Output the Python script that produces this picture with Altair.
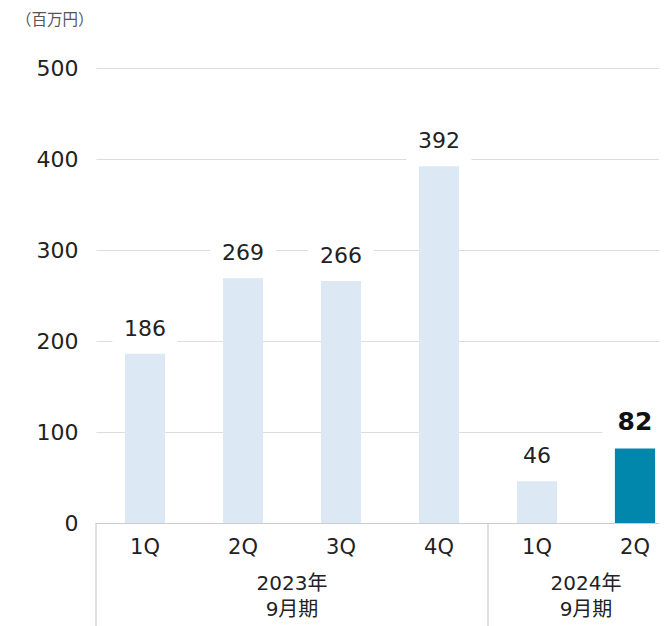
import altair as alt
import pandas as pd

years = ["2023", "2023", "2023", "2023", "2024", "2024"]
quarters = ["1Q", "2Q", "3Q", "4Q", "1Q", "2Q"]
values = [186, 269, 266, 392, 46, 82]
highlight = [False, False, False, False, False, True]
group_labels = {"2023": "2023年\n9月期", "2024": "2024年\n9月期"}
unit_label = "（百万円）"

FONT = "DejaVu Sans, Noto Sans CJK JP"
CJK = "Noto Sans CJK JP"
LIGHT = "#dce8f4"
TEAL = "#0087ab"

df = pd.DataFrame({"year": years, "q": quarters, "value": values, "hl": highlight})
df["key"] = df["year"] + "|" + df["q"]
order = list(df["key"])

g = df.groupby("year", sort=False).size().reset_index(name="n")
g["start"] = g["n"].cumsum() - g["n"]
g["end"] = g["n"].cumsum()
g["mid"] = (g["start"] + g["end"]) / 2
g["label"] = g["year"].map(group_labels)
n_total = len(df)
dividers = pd.DataFrame({"pos": list(g["start"]) + [n_total]})

STEP_RANGE = [0, 588]
W, H = 563, 455

xband = alt.X("key:N", sort=order, title=None,
              scale=alt.Scale(range=STEP_RANGE, paddingInner=0.59, paddingOuter=0.295),
              axis=alt.Axis(labelExpr="split(datum.label, '|')[1]", labelAngle=0,
                            labelFontSize=21, labelColor="#222", labelPadding=24,
                            labelBaseline="middle", ticks=False, domain=True,
                            labelFont=FONT,
                            domainColor="#cccccc", domainWidth=1.2, grid=False))
yscale = alt.Y("value:Q", title=None,
               scale=alt.Scale(domain=[0, 500], nice=False),
               axis=alt.Axis(values=[0, 100, 200, 300, 400, 500], grid=True,
                             gridColor="#dddddd", domain=False, ticks=False,
                             labelFont=FONT,
                             labelPadding=18, labelFontSize=22, labelColor="#222"))

base = alt.Chart(df)

bars = base.mark_bar().encode(
    x=xband, y=yscale,
    color=alt.condition(alt.datum.hl, alt.value(TEAL), alt.value(LIGHT)),
)

boxes = base.mark_point(
    shape="M-1,-0.62H1V0.62H-1Z", size=65 * 65, filled=True,
    color="white", opacity=1, strokeWidth=0, yOffset=-25,
).encode(x=alt.X("key:N", sort=order), y="value:Q")

labels = base.transform_filter("!datum.hl").mark_text(
    baseline="middle", dy=-25, fontSize=22, color="#222", font=FONT
).encode(x=alt.X("key:N", sort=order), y="value:Q", text="value:Q")

labels_hl = base.transform_filter("datum.hl").mark_text(
    baseline="middle", dy=-26, fontSize=25, fontWeight="bold", color="#111", font=FONT
).encode(x=alt.X("key:N", sort=order), y="value:Q", text="value:Q")

hx = alt.Scale(domain=[0, n_total], range=STEP_RANGE, nice=False, zero=False)

grp_text = alt.Chart(g).mark_text(
    baseline="middle", align="center", fontSize=20, lineBreak="\n",
    lineHeight=26, color="#222", font=FONT
).encode(x=alt.X("mid:Q", scale=hx, axis=None), y=alt.value(516), text="label:N")

div_rules = alt.Chart(dividers).mark_rule(color="#cccccc", strokeWidth=1.2).encode(
    x=alt.X("pos:Q", scale=hx, axis=None), y=alt.value(H), y2=alt.value(H + 120)
)

unit = alt.Chart(pd.DataFrame({"t": [unit_label]})).mark_text(
    align="left", baseline="middle", fontSize=15.5, color="#555", font=CJK
).encode(x=alt.value(-80), y=alt.value(-48), text="t:N")

main = alt.layer(bars, boxes, labels, labels_hl)
chart = alt.layer(main, grp_text, div_rules, unit).resolve_scale(x="independent").properties(
    width=W, height=H,
    autosize=alt.AutoSizeParams(type="none"),
    padding={"left": 88, "top": 60, "right": 0, "bottom": 103},
).configure(font=FONT).configure_view(stroke=None)

chart.save("out.html", embed_options={"renderer": "svg", "actions": False})
